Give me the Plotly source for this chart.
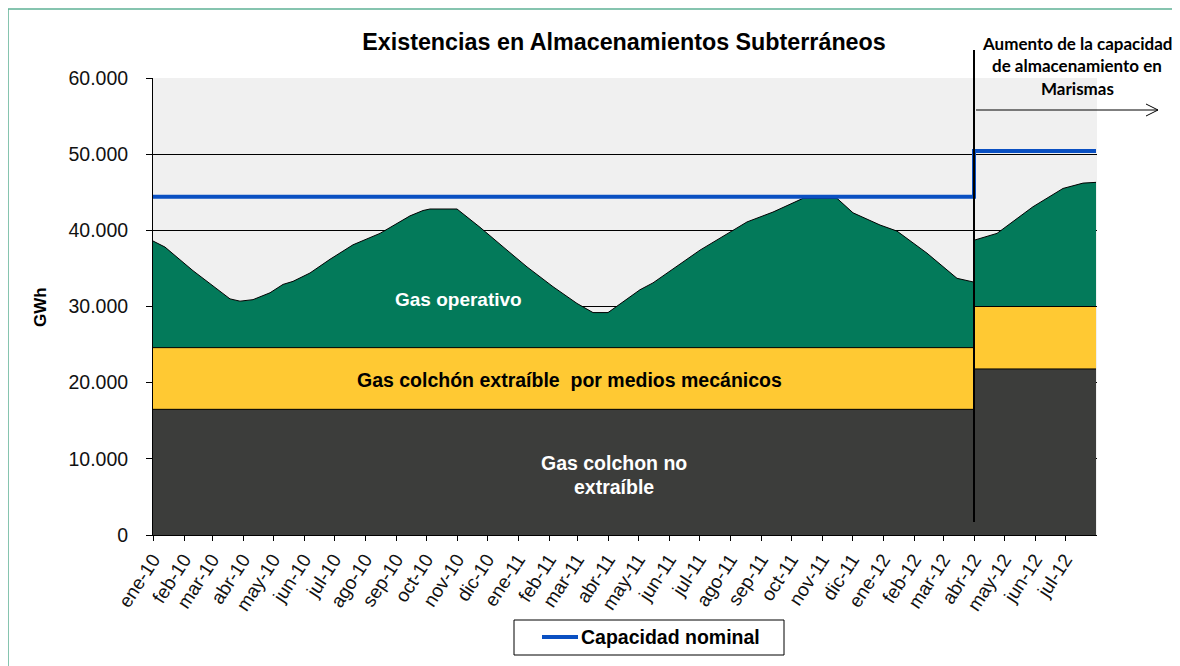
import plotly.graph_objects as go

# ---- data ----
fechas = [
    "2010-01-01", "2010-01-13", "2010-02-10", "2010-03-19", "2010-03-29", "2010-04-11",
    "2010-04-28", "2010-05-11", "2010-05-21", "2010-06-07", "2010-06-27", "2010-07-20",
    "2010-08-16", "2010-09-15", "2010-09-28", "2010-10-05", "2010-11-01", "2010-11-24",
    "2010-12-21", "2011-01-10", "2011-02-05", "2011-03-01", "2011-03-17", "2011-04-01",
    "2011-05-03", "2011-05-16", "2011-07-02", "2011-08-18", "2011-09-13", "2011-10-13",
    "2011-11-16", "2011-12-02", "2011-12-29", "2012-01-15", "2012-02-14", "2012-03-15",
    "2012-04-01", "2012-04-01", "2012-04-24", "2012-05-30", "2012-06-29", "2012-07-19",
    "2012-08-01",
]
existencias_total = [
    38600, 37800, 34700, 31000, 30700, 30900,
    31800, 32900, 33300, 34400, 36200, 38100,
    39600, 41900, 42600, 42800, 42800, 40400,
    37400, 35200, 32600, 30400, 29200, 29200,
    32200, 33100, 37400, 41100, 42400, 44200,
    44200, 42300, 40700, 39900, 37000, 33700,
    33200, 38700, 39600, 43100, 45500, 46200,
    46300,
]
fechas_escalon = ["2010-01-01", "2012-04-01", "2012-08-01"]
colchon_extraible_top = [24600, 30000, 30000]
colchon_no_extraible = [16500, 21800, 21800]
capacidad_nominal = [44400, 50400, 50400]

meses = ["ene", "feb", "mar", "abr", "may", "jun", "jul", "ago", "sep", "oct", "nov", "dic"]
tick_vals = []
tick_text = []
for yr in (2010, 2011, 2012):
    for m in range(12):
        if yr == 2012 and m > 6:
            break
        tick_vals.append(f"{yr}-{m+1:02d}-01")
        tick_text.append(f"{meses[m]}-{str(yr)[2:]}")

y_vals = [0, 10000, 20000, 30000, 40000, 50000, 60000]
y_text = ["0", "10.000", "20.000", "30.000", "40.000", "50.000", "60.000"]

GREEN = "#037A5A"
YELLOW = "#FFC933"
DARK = "#3C3D3B"
BLUE = "#0A50C2"

# plot area in screen pixels (page has 8px body margin)
PL, PR, PT, PB = 153, 1097, 78, 535
PW, PH = PR - PL, PB - PT
OFF = 8
W, H = 1180 - OFF, 666 - OFF

fig = go.Figure()
fig.add_trace(go.Scatter(x=fechas, y=existencias_total, mode="lines", fill="tozeroy",
                         fillcolor=GREEN, line=dict(color="black", width=1),
                         showlegend=False, hoverinfo="skip"))
fig.add_trace(go.Scatter(x=fechas_escalon, y=colchon_extraible_top, mode="lines", fill="tozeroy",
                         line_shape="hv", fillcolor=YELLOW, line=dict(color="black", width=1),
                         showlegend=False, hoverinfo="skip"))
fig.add_trace(go.Scatter(x=fechas_escalon, y=colchon_no_extraible, mode="lines", fill="tozeroy",
                         line_shape="hv", fillcolor=DARK, line=dict(color="black", width=1),
                         showlegend=False, hoverinfo="skip"))
fig.add_trace(go.Scatter(x=fechas_escalon, y=capacidad_nominal, mode="lines", line_shape="hv",
                         line=dict(color=BLUE, width=4), name="Capacidad nominal",
                         showlegend=False))

FONT = "Liberation Sans, Arial, sans-serif"

fig.update_layout(
    width=W, height=H,
    margin=dict(l=PL - OFF, r=W - (PR - OFF), t=PT - OFF, b=H - (PB - OFF), autoexpand=False),
    paper_bgcolor="white", plot_bgcolor="#F0F0F0",
    font=dict(family=FONT, color="black"),
    title=dict(text="<b>Existencias en Almacenamientos Subterráneos</b>",
               x=(624 - PL) / PW, xref="paper", xanchor="center",
               y=1 - (42 - OFF) / H, yanchor="middle",
               font=dict(size=23.3, family=FONT, color="black")),
    showlegend=False,
    xaxis=dict(type="date", range=["2010-01-01", "2012-08-02"], tickmode="array",
               tickvals=tick_vals, ticktext=tick_text, tickangle=-57,
               ticks="outside", ticklen=5, tickcolor="black", showgrid=False,
               showline=True, linecolor="black", linewidth=1, mirror=False,
               tickfont=dict(size=19, family=FONT, color="#111")),
    yaxis=dict(range=[0, 60000], tickmode="array", tickvals=y_vals, ticktext=y_text,
               ticks="outside", ticklen=6, tickcolor="black", showgrid=True,
               gridcolor="black", gridwidth=1, showline=True, linecolor="black",
               linewidth=1, zeroline=False, ticklabelstandoff=14,
               tickfont=dict(size=19.5, family=FONT, color="#111")),
)


def sx(x):
    return (x - PL) / PW


def sy(y):
    return (PB - y) / PH


# outer border
fig.add_shape(type="rect", xref="paper", yref="paper",
              x0=sx(8), x1=sx(1200), y0=sy(700), y1=sy(9),
              line=dict(color="#5FB195", width=1.5), layer="below")
# vertical marker line
fig.add_shape(type="line", xref="x", yref="paper", x0="2012-04-01", x1="2012-04-01",
              y0=sy(522), y1=sy(50), line=dict(color="black", width=2))
# arrow
fig.add_shape(type="line", xref="paper", yref="paper", x0=sx(976), x1=sx(1158),
              y0=sy(110), y1=sy(110), line=dict(color="black", width=1))
fig.add_shape(type="line", xref="paper", yref="paper", x0=sx(1146), x1=sx(1158),
              y0=sy(104), y1=sy(110), line=dict(color="black", width=1))
fig.add_shape(type="line", xref="paper", yref="paper", x0=sx(1146), x1=sx(1158),
              y0=sy(116), y1=sy(110), line=dict(color="black", width=1))

# legend box (drawn)
fig.add_shape(type="rect", xref="paper", yref="paper", x0=sx(514), x1=sx(784),
              y0=sy(655), y1=sy(620), line=dict(color="black", width=1), fillcolor="white")
fig.add_shape(type="line", xref="paper", yref="paper", x0=sx(542), x1=sx(578),
              y0=sy(637), y1=sy(637), line=dict(color=BLUE, width=4))
fig.add_annotation(text="Capacidad nominal", xref="paper", yref="paper", x=sx(579), y=sy(637),
                   showarrow=False, xanchor="left", yanchor="middle",
                   font=dict(size=19.5, color="black", family=FONT, weight="bold"))


def px_ann(text, x, y, size, color, font=FONT, angle=0):
    fig.add_annotation(text=text, xref="paper", yref="paper",
                       x=sx(x), y=sy(y), showarrow=False, textangle=angle,
                       xanchor="center", yanchor="middle",
                       font=dict(size=size, color=color, family=font, weight="bold"))


CAL = "Lato, Liberation Sans, sans-serif"
px_ann("Aumento de la capacidad", 1077, 43, 17, "black", CAL)
px_ann("de almacenamiento en", 1077, 66, 17, "black", CAL)
px_ann("Marismas", 1077, 88, 17, "black", CAL)

px_ann("GWh", 40, 307, 17, "black", angle=-90)
px_ann("Gas operativo", 458, 299, 19, "white")
px_ann("Gas colchón extraíble  por medios mecánicos", 569, 380, 19.5, "black")
px_ann("Gas colchon no", 614, 463, 19.5, "white")
px_ann("extraíble", 614, 487, 19.5, "white")

fig.write_html("out.html")
